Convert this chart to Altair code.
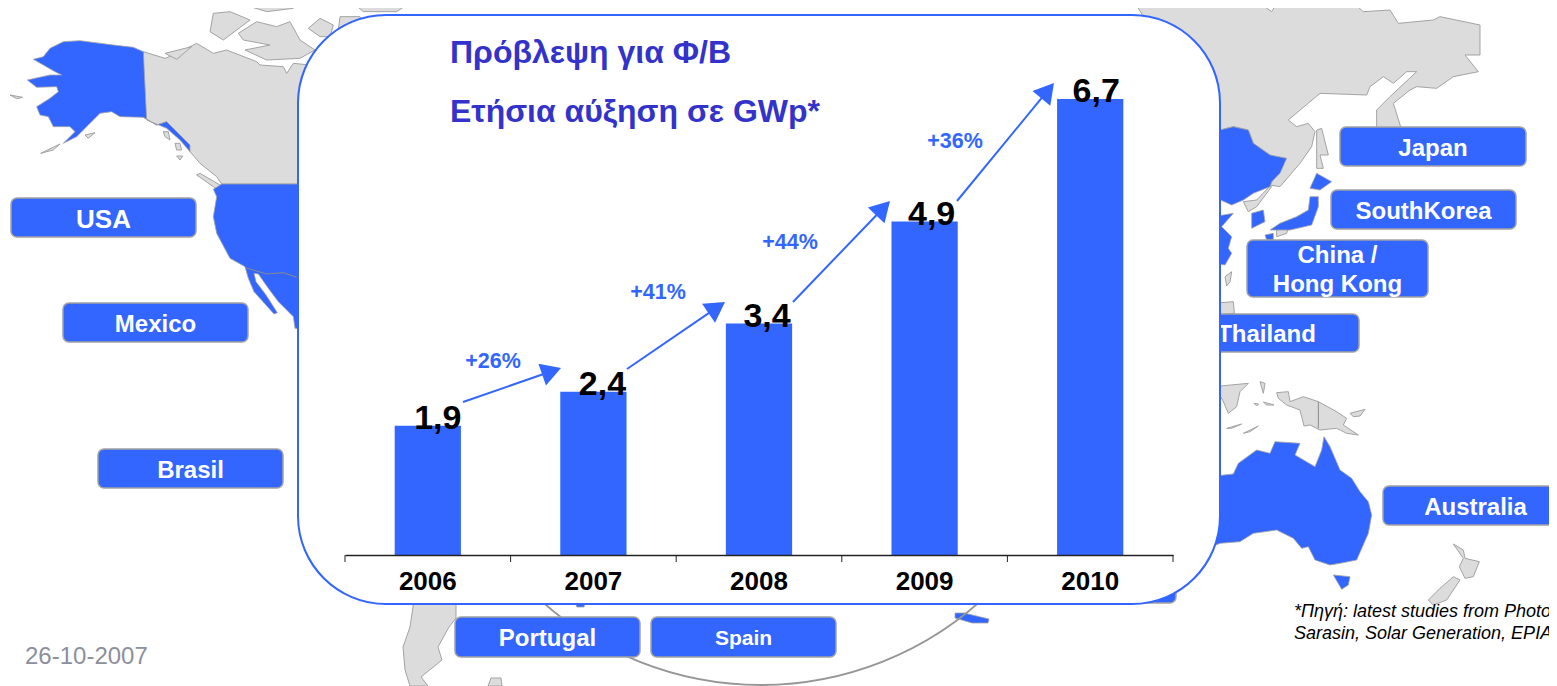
import math
import altair as alt

BLUE = "#3366ff"
GREY_FILL = "#dcdcdc"
EDGE = "#a3a3a3"
FONT = "Liberation Sans"
W, H = 1541, 678

years = ["2006", "2007", "2008", "2009", "2010"]
values = [1.9, 2.4, 3.4, 4.9, 6.7]
value_labels = ["1,9", "2,4", "3,4", "4,9", "6,7"]
label_dx = [10, 9, 8, 7, 6]
tick_x = [345, 510.6, 676.2, 841.8, 1007.4, 1173]
growth_labels = ["+26%", "+41%", "+44%", "+36%"]
growth_x = [493, 658, 790, 955]
growth_y = [361.5, 292.5, 242.5, 141.5]
arrow_start = [(463, 402), (627, 369), (793, 302), (957, 201)]
arrow_tip = [(561, 368), (725, 302), (890, 201), (1054, 83)]

boxes = [
    ("USA", 11, 196, 198, 237, 26), ("Mexico", 63, 248, 303, 342, 24),
    ("Brasil", 98, 283, 449, 488, 24), ("Portugal", 455, 640, 617, 657, 24),
    ("Spain", 651, 836, 617, 657, 21), ("Japan", 1340, 1526, 127, 166, 24),
    ("SouthKorea", 1331, 1516, 190, 229, 24), ("Australia", 1383, 1568, 486, 525, 24),
]
hidden_boxes = [("Thailand", 1174, 1359, 314, 352, 24), ("", 991, 1176, 565, 603, 24)]
china_box = (1247, 1428, 240, 297)
china_lines = [("China /", 256), ("Hong Kong", 285)]


def z(points, ox=0, oy=0):
    return [(ox + a / 3, oy + b / 3) for a, b in points]


grey_west = [
    [(430,155),(495,175),(520,165),(590,130),(640,160),(680,150),(770,185),(780,195),(850,200),(860,220),(880,190),(930,195),(1000,300),(1000,552),(665,552),(650,530),(600,490),(570,455),(535,400),(500,365),(470,375),(430,352)],
    [(630,95),(640,40),(690,35),(750,60),(710,90),(670,120)],
    [(715,100),(770,65),(830,80),(870,65),(900,120),(945,150),(900,175),(800,180),(735,150),(810,135),(730,120)],
    [(925,85),(960,55),(1000,75),(990,110),(960,110)],
    [(1015,90),(1020,50),(1080,50),(1100,80),(1040,100)],
    [(735,15),(770,24),(770,0),(885,0),(880,25),(800,35)],
    [(925,5),(985,0),(975,20),(950,20)],
    [(1055,5),(1065,0),(1210,5),(1220,15),(1190,35),(1090,35)],
    [(495,160),(575,140),(530,178)],
    [(590,525),(600,520),(660,555),(665,580),(640,560)],
    [(490,395),(505,395),(510,420),(495,410)],
    [(525,430),(540,430),(545,450),(530,450)],
    [(530,468),(548,468),(540,480)],
    [(30,285),(68,292),(50,296)],
    [(122,460),(180,432),(160,450)],
    [(255,405),(285,398),(265,415)],
]
blue_west = [
    [(430,155),(400,142),(340,135),(240,122),(190,125),(150,145),(130,170),(100,178),(130,195),(165,215),(185,225),(150,225),(82,240),(110,262),(170,260),(175,275),(150,295),(110,320),(120,345),(145,350),(160,380),(210,380),(225,395),(190,430),(230,410),(265,375),(300,340),(335,335),(360,350),(430,352),(470,375),(500,365),(535,400),(570,435),(570,455),(540,420),(500,385),(440,360)],
    [(665,552),(1000,552),(1000,1000),(885,985),(880,950),(835,905),(805,865),(775,822),(762,820),(768,845),(798,885),(832,938),(822,942),(762,875),(745,835),(735,800),(690,775),(650,700),(640,650),(650,590),(640,568)],
]
grey_east = [
    [(100,0),(465,0),(515,35),(530,10),(600,20),(630,0),(690,15),(750,0),(790,35),(870,30),(895,70),(1000,60),(1020,50),(1140,75),(1140,165),(1095,165),(1135,215),(1060,230),(1010,265),(950,260),(930,270),(880,310),(905,390),(830,390),(830,330),(870,290),(950,215),(920,215),(880,250),(850,230),(810,260),(800,285),(660,280),(565,360),(590,380),(625,370),(645,395),(635,440),(600,490),(540,560),(510,555),(555,480),(510,465),(460,430),(445,390),(400,380),(340,395)],
    [(510,558),(470,600),(430,605),(445,635),(470,620),(515,560)],
    [(650,390),(665,385),(685,465),(660,465),(670,505),(650,505),(650,440)],
    [(530,690),(565,685),(560,700),(530,710)],
    [(375,830),(395,815),(390,845),(380,858)],
    [(340,910),(400,905),(403,940),(340,945)],
]
blue_east = [
    [(340,395),(400,380),(445,390),(460,430),(510,465),(560,475),(540,520),(515,545),(510,560),(460,580),(430,600),(395,615),(340,590)],
    [(340,650),(400,640),(365,680),(395,710),(385,745),(395,760),(375,795),(340,790)],
    [(455,640),(490,630),(495,665),(455,685)],
    [(650,520),(695,545),(660,570),(630,565)],
    [(630,590),(655,590),(655,620),(635,675),(570,690),(510,690),(540,670),(590,650),(625,630)],
    [(495,705),(520,700),(520,720),(500,720)],
]
grey_south = [
    [(340,110),(445,100),(420,125),(410,170),(385,190),(368,150)],
    [(480,95),(495,100),(490,130)],
    [(380,235),(425,222),(395,235)],
    [(430,250),(475,228),(450,245)],
    [(530,128),(565,125),(570,155),(610,140),(655,155),(710,185),(740,205),(730,225),(775,255),(740,250),(710,235),(660,240),(630,225),(612,228),(600,180),(560,165),(535,145)],
    [(750,190),(795,178),(780,198),(760,200)],
    [(462,160),(476,162),(470,168)],
    [(490,156),(522,165),(500,165)],
    [(1060,582),(1090,600),(1095,625),(1138,635),(1120,680),(1095,685),(1078,650),(1090,625)],
    [(1060,680),(1080,690),(1040,750),(1000,765),(985,750),(1020,715)],
]
blue_south = [
    [(280,385),(400,372),(415,340),(470,300),(510,310),(525,275),(600,280),(585,315),(645,350),(665,300),(672,260),(690,290),(720,360),(755,385),(780,425),(805,455),(815,495),(805,550),(770,630),(720,640),(690,645),(645,630),(625,590),(605,595),(580,565),(530,540),(460,550),(420,575),(360,580),(335,590),(280,620)],
    [(700,675),(750,680),(745,705),(725,718)],
]
grey_america = [
    [(414,600),(456,600),(456,618),(449,627),(438,647),(442,660),(421,677),(428,686),(410,686),(405,670),(403,647),(410,627)],
    [(491,678),(501,678),(502,686),(488,686)],
]
blue_med = [
    [(955,613),(964,613),(989,619),(988,623),(972,623),(955,618)],
    [(575,603),(585,603),(584,607),(577,607)],
]
border_lines = [
    z([(735,803),(800,822),(850,818),(890,832)]),
    z([(655,155),(655,235)], 1100, 350),
]

grey_polys = [z(p) for p in grey_west] + [z(p, 1100, 0) for p in grey_east] + [z(p, 1100, 350) for p in grey_south] + grey_america
blue_polys = [z(p) for p in blue_west] + [z(p, 1100, 0) for p in blue_east] + [z(p, 1100, 350) for p in blue_south] + blue_med


def features(polys):
    out = []
    for p in polys:
        ring = [list(q) for q in p] + [list(p[0])]
        out.append({"type": "Feature", "properties": {}, "geometry": {"type": "Polygon", "coordinates": [ring]}})
    return out


XS = alt.Scale(domain=[8, 8 + W], range=[0, W], zero=False, nice=False)
YS = alt.Scale(domain=[8, 8 + H], range=[0, H], zero=False, nice=False)


def px(name):
    return alt.X(f"{name}:Q", scale=XS, axis=None)


def py(name):
    return alt.Y(f"{name}:Q", scale=YS, axis=None)


def rects(rows, **mark):
    return alt.Chart(alt.Data(values=rows)).mark_rect(**mark).encode(
        x=px("x0"), x2=alt.X2("x1"), y=py("y0"), y2=alt.Y2("y1"))


def texts(rows, **mark):
    return alt.Chart(alt.Data(values=rows)).mark_text(font=FONT, **mark).encode(
        x=px("x"), y=py("y"), text=alt.Text("t:N"), size=alt.Size("fs:Q", scale=None, legend=None))


def box_rows(items):
    return [{"x0": b[1], "x1": b[2], "y0": b[3], "y1": b[4]} for b in items]


def box_text_rows(items):
    return [{"x": (b[1] + b[2]) / 2, "y": (b[3] + b[4]) / 2 + 2, "t": b[0], "fs": b[5]} for b in items if b[0]]


box_style = dict(fill=BLUE, stroke=EDGE, strokeWidth=1.5, cornerRadius=6)
text_style = dict(color="white", fontWeight="bold", baseline="middle", align="center")

grey_layer = alt.Chart(alt.Data(values=features(grey_polys))).mark_geoshape(
    fill=GREY_FILL, stroke=EDGE, strokeWidth=1).project(type="identity", scale=1, translate=[-8, -8])
blue_layer = alt.Chart(alt.Data(values=features(blue_polys))).mark_geoshape(
    fill=BLUE, stroke=EDGE, strokeWidth=0.8).project(type="identity", scale=1, translate=[-8, -8])

border_rows = []
for i, line in enumerate(border_lines):
    for j, (a, b) in enumerate(line):
        border_rows.append({"x": a, "y": b, "g": i, "o": j})
borders = alt.Chart(alt.Data(values=border_rows)).mark_line(color="#8a8a8a", strokeWidth=1).encode(
    x=px("x"), y=py("y"), detail="g:N", order="o:Q")

circle = alt.Chart(alt.Data(values=[{"x": 761, "y": 356}])).mark_point(
    shape="circle", filled=False, size=658 ** 2, stroke="#969696", strokeWidth=2, opacity=1).encode(
    x=px("x"), y=py("y"))

hidden_rects = rects(box_rows(hidden_boxes), **box_style)
hidden_text = texts(box_text_rows(hidden_boxes), **text_style)

panel = rects([{"x0": 298, "x1": 1220, "y0": 15, "y1": 604}], fill="white", stroke=BLUE,
              strokeWidth=2, cornerRadius=88)

box_layer = rects(box_rows(boxes) + [{"x0": china_box[0], "x1": china_box[1], "y0": china_box[2], "y1": china_box[3]}],
                  **box_style)
box_text = texts(box_text_rows(boxes) + [{"x": (china_box[0] + china_box[1]) / 2, "y": y, "t": t, "fs": 24}
                                         for t, y in china_lines], **text_style)

X_BAR = alt.Scale(domain=years, range=[337, 1165], paddingInner=0.6, paddingOuter=0.3)
Y_BAR = alt.Scale(domain=[0, 7], range=[547, 547 - 7 * 68.06], zero=True, nice=False)
rows = [{"year": y, "value": v, "label": l} for y, v, l in zip(years, values, value_labels)]

bars = alt.Chart(alt.Data(values=rows)).mark_bar(color=BLUE).encode(
    x=alt.X("year:N", scale=X_BAR, sort=years, title=None,
            axis=alt.Axis(orient="bottom", offset=547 - H, labelAngle=0, labelFont=FONT, labelFontSize=26,
                          labelFontWeight="bold", labelColor="black", domainColor="#222222", domainWidth=1.5,
                          ticks=False, labelPadding=13, grid=False, zindex=1)),
    y=alt.Y("value:Q", scale=Y_BAR, axis=None),
)

axis_ticks = alt.Chart(alt.Data(values=[{"x": t, "y0": 555, "y1": 562} for t in tick_x])).mark_rule(
    color="#222222", strokeWidth=1).encode(x=px("x"), y=py("y0"), y2=alt.Y2("y1"))

value_layers = []
for r, dx in zip(rows, label_dx):
    value_layers.append(
        alt.Chart(alt.Data(values=[r])).mark_text(font=FONT, fontWeight="bold", fontSize=34, color="black",
                                                  baseline="alphabetic", align="center", dx=dx, dy=3).encode(
            x=alt.X("year:N", scale=X_BAR, sort=years, axis=None),
            y=alt.Y("value:Q", scale=Y_BAR, axis=None),
            text="label:N"))

arrow_rows, head_rows = [], []
HEAD = 23
for (a, b), (c, d) in zip(arrow_start, arrow_tip):
    length = math.hypot(c - a, d - b)
    ux, uy = (c - a) / length, (d - b) / length
    h = HEAD * 0.866 / 2
    arrow_rows.append({"x0": a, "y0": b, "x1": c - ux * h, "y1": d - uy * h})
    head_rows.append({"x": c - ux * h, "y": d - uy * h, "a": (math.degrees(math.atan2(ux, -uy))) % 360})

arrow_lines = alt.Chart(alt.Data(values=arrow_rows)).mark_rule(color=BLUE, strokeWidth=2).encode(
    x=px("x0"), x2=alt.X2("x1"), y=py("y0"), y2=alt.Y2("y1"))
arrow_heads = alt.Chart(alt.Data(values=head_rows)).mark_point(
    shape="triangle-up", filled=True, color=BLUE, size=HEAD ** 2, opacity=1).encode(
    x=px("x"), y=py("y"), angle=alt.Angle("a:Q", scale=None))

growth = texts([{"x": a, "y": b, "t": t, "fs": 21.5} for a, b, t in zip(growth_x, growth_y, growth_labels)],
               color=BLUE, fontWeight="bold", baseline="middle", align="center")

titles = texts([{"x": 450, "y": 53, "t": "Πρόβλεψη για Φ/Β", "fs": 32},
                {"x": 450, "y": 112, "t": "Ετήσια αύξηση σε GWp*", "fs": 32}],
               color="#3333cc", fontWeight="bold", baseline="middle", align="left")

date_text = texts([{"x": 25, "y": 657, "t": "26-10-2007", "fs": 24}], color="#8c8f9c", baseline="middle", align="left")
notes = texts([{"x": 1294, "y": 612, "t": "*Πηγή: latest studies from Photo", "fs": 18},
               {"x": 1294, "y": 634, "t": "Sarasin, Solar Generation, EPIA", "fs": 18}],
              color="black", fontStyle="italic", baseline="middle", align="left")

chart = alt.layer(
    grey_layer, blue_layer, borders, circle, hidden_rects, hidden_text, panel,
    box_layer, box_text, bars, axis_ticks, *value_layers, arrow_lines, arrow_heads, growth, titles, date_text, notes,
).resolve_scale(x="independent", y="independent", size="independent", angle="independent").properties(
    width=W, height=H, padding=0, autosize=alt.AutoSizeParams(type="none", contains="content"),
).configure_view(stroke=None)

chart.save("out.html", embed_options={"renderer": "svg", "actions": False})
